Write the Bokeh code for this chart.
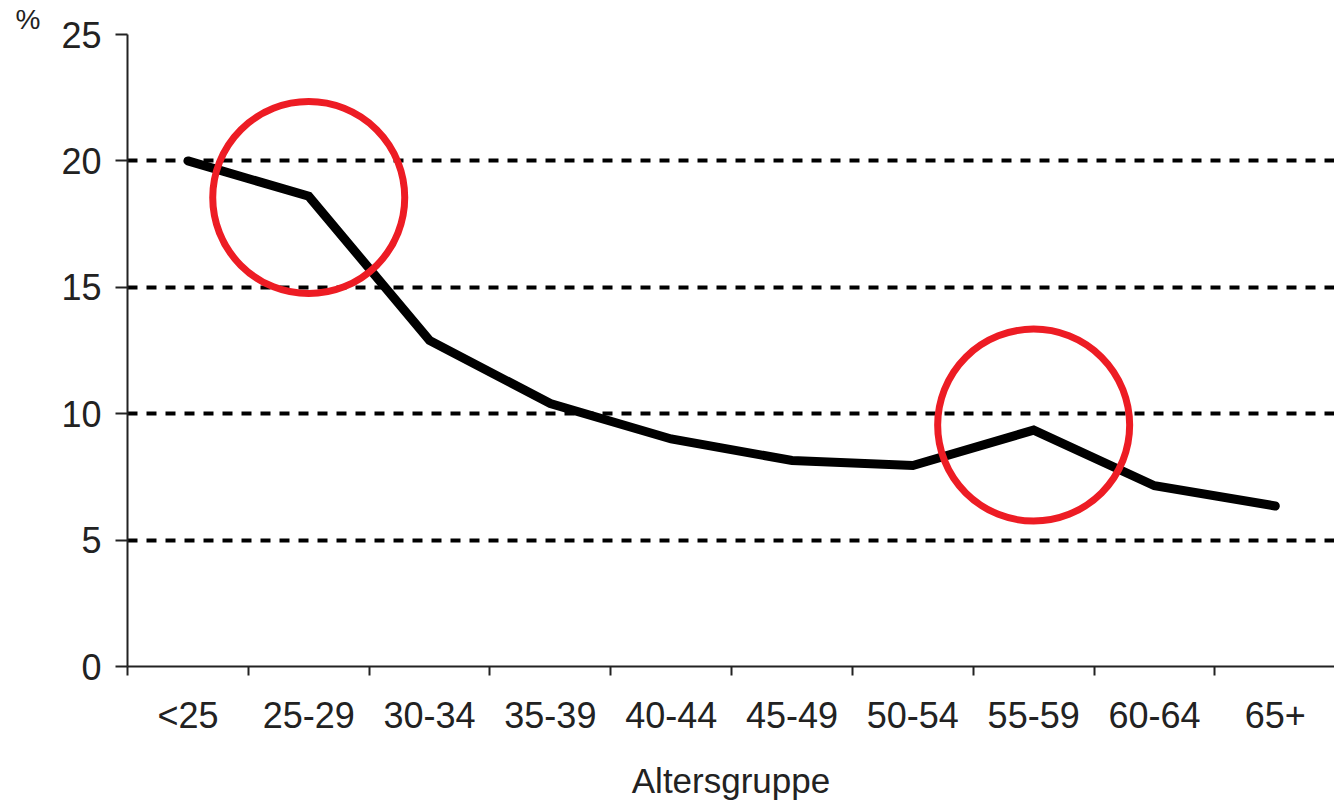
from bokeh.plotting import figure
from bokeh.models import FixedTicker, Range1d
from bokeh.embed import file_html
from bokeh.resources import INLINE

# ---- data ----
age_groups = ["<25", "25-29", "30-34", "35-39", "40-44", "45-49", "50-54", "55-59", "60-64", "65+"]
shares = [20.0, 18.6, 12.9, 10.4, 9.0, 8.15, 7.95, 9.35, 7.15, 6.35]
y_ticks = [0, 5, 10, 15, 20, 25]
highlight_groups = ["25-29", "55-59"]
highlight_values = [18.55, 9.55]

FONT = "Liberation Sans"
TXT = "#222222"

xs = [i + 0.5 for i in range(len(age_groups))]
boundaries = list(range(len(age_groups) + 1))
hx = [age_groups.index(g) + 0.5 for g in highlight_groups]

p = figure(width=1334, height=802, output_backend="svg", toolbar_location=None,
           x_range=Range1d(0, 9.99), y_range=Range1d(0, 25),
           min_border_left=127, min_border_right=0, min_border_top=34, min_border_bottom=135)
p.outline_line_color = None
p.background_fill_color = "white"
p.border_fill_color = "white"

# "%" unit label as a left-shifted title
p.title.text = "%"
p.title.align = "left"
p.title.offset = -112
p.title.standoff = 0
p.title.text_font = FONT
p.title.text_font_size = "28px"
p.title.text_font_style = "normal"
p.title.text_color = TXT

# grid
p.xgrid.visible = False
p.ygrid.ticker = FixedTicker(ticks=y_ticks[1:])
p.ygrid.grid_line_color = "black"
p.ygrid.grid_line_width = 4
p.ygrid.grid_line_dash = "10 9"

# x axis
xa = p.xaxis[0]
xa.ticker = FixedTicker(ticks=xs, minor_ticks=boundaries)
xa.major_label_overrides = {x: lab for x, lab in zip(xs, age_groups)}
xa.major_tick_out = 0
xa.major_tick_in = 0
xa.minor_tick_out = 9
xa.minor_tick_in = 0
xa.minor_tick_line_width = 2
xa.minor_tick_line_color = TXT
xa.axis_line_width = 2
xa.axis_line_color = TXT
xa.major_label_text_font = FONT
xa.major_label_text_font_size = "36px"
xa.major_label_text_color = TXT
xa.major_label_standoff = 19
xa.axis_label = "Altersgruppe"
xa.axis_label_text_font = FONT
xa.axis_label_text_font_size = "35px"
xa.axis_label_text_font_style = "normal"
xa.axis_label_text_color = TXT
xa.axis_label_standoff = 22

# y axis
ya = p.yaxis[0]
ya.ticker = FixedTicker(ticks=y_ticks)
ya.major_tick_out = 12
ya.major_tick_in = 0
ya.major_tick_line_width = 2
ya.major_tick_line_color = TXT
ya.minor_tick_line_color = None
ya.axis_line_width = 2
ya.axis_line_color = TXT
ya.major_label_text_font = FONT
ya.major_label_text_font_size = "36px"
ya.major_label_text_color = TXT
ya.major_label_standoff = 14

# data line
p.line(xs, shares, line_width=9, line_color="black", line_join="miter", line_cap="round")

# highlight circles
p.scatter(hx, highlight_values, marker="circle", size=192, fill_color=None,
          line_color="#ED1C24", line_width=7)

open("out.html", "w").write(file_html(p, INLINE))
